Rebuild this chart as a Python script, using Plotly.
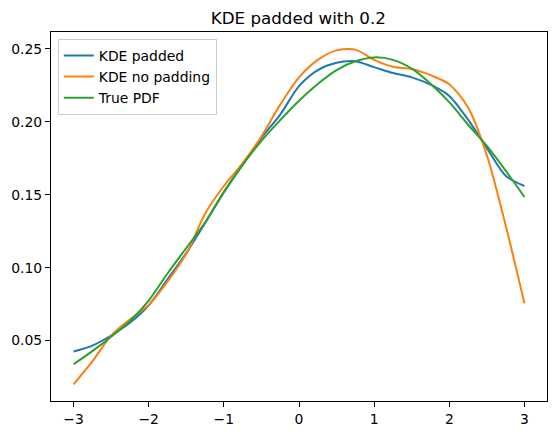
import plotly.graph_objects as go

x_vals = [-3, -2.75, -2.5, -2.25, -2, -1.75, -1.5, -1.25, -1, -0.75, -0.5, -0.25,
          0, 0.25, 0.5, 0.75, 1, 1.25, 1.5, 1.75, 2, 2.25, 2.5, 2.75, 3]

kde_padded = [0.0425, 0.0466, 0.0535, 0.0622, 0.0742, 0.0920, 0.1100, 0.1305, 0.1515,
              0.1705, 0.1890, 0.2050, 0.2245, 0.2355, 0.2405, 0.2415, 0.2375, 0.2335,
              0.2305, 0.2255, 0.2178, 0.2015, 0.1820, 0.1630, 0.1560]

kde_no_pad = [0.0200, 0.0357, 0.0534, 0.0645, 0.0745, 0.0905, 0.1095, 0.1370, 0.1560,
              0.1717, 0.1900, 0.2118, 0.2305, 0.2425, 0.2490, 0.2495, 0.2425, 0.2378,
              0.2362, 0.2320, 0.2258, 0.2098, 0.1770, 0.1290, 0.0756]

true_pdf = [0.0338, 0.0428, 0.0527, 0.0635, 0.0775, 0.0960, 0.1135, 0.1310, 0.1520,
            0.1705, 0.1870, 0.2012, 0.2145, 0.2260, 0.2355, 0.2415, 0.2442, 0.2425,
            0.2365, 0.2262, 0.2135, 0.1980, 0.1835, 0.1665, 0.1485]

names = ["KDE padded", "KDE no padding", "True PDF"]
colors = ["#1f77b4", "#ff7f0e", "#2ca02c"]
series = [kde_padded, kde_no_pad, true_pdf]

fig = go.Figure()
for n, c, s in zip(names, colors, series):
    fig.add_trace(go.Scatter(x=x_vals, y=s, mode="lines", name=n,
                             line=dict(color=c, width=2.0, shape="spline", smoothing=0.8)))

font = "DejaVu Sans"
axis_common = dict(showgrid=False, zeroline=False, showline=True, linecolor="black",
                   linewidth=1.1, mirror=True, ticks="outside", ticklen=5, tickwidth=1.1,
                   tickcolor="black", tickfont=dict(family=font, size=13.9, color="black"))

fig.update_layout(
    width=556, height=435,
    margin=dict(l=50.5, r=9.3, t=32.3, b=34),
    paper_bgcolor="white", plot_bgcolor="white",
    title=dict(text="KDE padded with 0.2", x=0.5365, xanchor="center", y=0.958, yanchor="middle",
               font=dict(family=font, size=16.7, color="black")),
    xaxis=dict(range=[-3.3, 3.3], tickvals=[-3, -2, -1, 0, 1, 2, 3], **axis_common),
    yaxis=dict(range=[0.0086, 0.2616], tickvals=[0.05, 0.10, 0.15, 0.20, 0.25],
               tickformat=".2f", **axis_common),
    legend=dict(x=0.0137, y=0.981, xanchor="left", yanchor="top",
                bgcolor="rgba(255,255,255,0.8)", bordercolor="#cccccc", borderwidth=1,
                font=dict(family=font, size=13.9, color="black"), tracegroupgap=0,
                itemwidth=30),
    showlegend=True,
)

fig.write_html("out.html")
